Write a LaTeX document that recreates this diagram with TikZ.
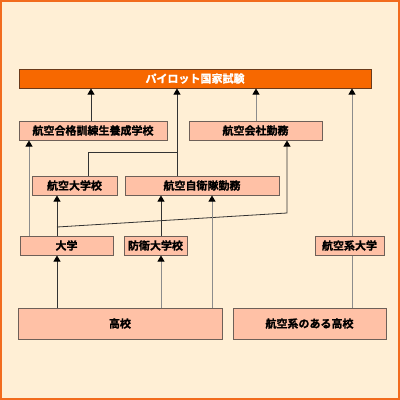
\documentclass[tikz,border=0pt]{standalone}
\usepackage{fontspec}
\setmainfont{Noto Sans CJK JP}[BoldFont={Noto Sans CJK JP Bold}, BoldFeatures={FakeBold=1.2}]
\usetikzlibrary{arrows.meta}
\definecolor{bgc}{HTML}{FFEFD5}
\definecolor{framec}{HTML}{F26B1D}
\definecolor{topc}{HTML}{F76800}
\definecolor{topline}{HTML}{6B3A1A}
\definecolor{boxc}{HTML}{FFC1A6}
\definecolor{boxline}{HTML}{6E6058}
\definecolor{darkl}{HTML}{333333}
\definecolor{grayl}{HTML}{8C8C8C}
\tikzset{
  box/.style={draw=boxline, line width=1pt, fill=boxc, inner sep=0pt,
    font=\bfseries\fontsize{11}{12}\selectfont, text=black, minimum height=19pt},
  topbox/.style={box, fill=topc, draw=topline, text=white},
  arr/.style={-{Triangle[width=7pt,length=6pt,color=black]}, line width=0.8pt},
  dk/.style={draw=darkl},
  gy/.style={draw=grayl},
}
\begin{document}
\begin{tikzpicture}[x=1pt,y=-1pt]
\useasboundingbox (0,0) rectangle (400,400);
\fill[bgc] (0,0) rectangle (400,400);
\draw[framec, line width=2pt] (1,1) rectangle (399,399);

\node[topbox, minimum width=352pt] (top) at (195,78.5) {パイロット国家試験};
\node[box, minimum width=148pt] (kunren) at (93,130.5) {航空合格訓練生養成学校};
\node[box, minimum width=133pt] (kaisha) at (255.5,130.5) {航空会社勤務};
\node[box, minimum width=85pt] (kokudai) at (74.5,185.5) {航空大学校};
\node[box, minimum width=154pt] (jieitai) at (202,185.5) {航空自衛隊勤務};
\node[box, minimum width=93pt] (daigaku) at (66.5,245.5) {大学};
\node[box, minimum width=63pt] (boei) at (155.5,245.5) {防衛大学校};
\node[box, minimum width=69pt] (kokukei) at (349.5,245.5) {航空系大学};
\node[box, minimum width=204pt, minimum height=31pt] (koko) at (120,323.5) {高校};
\node[box, minimum width=153pt, minimum height=31pt] (kokukoko) at (309.5,323.5) {航空系のある高校};

\coordinate (x29) at (29,0);
\coordinate (x57) at (57,0);
\coordinate (x88) at (88,0);
\coordinate (x91) at (91,0);
\coordinate (x161) at (161,0);
\coordinate (x177) at (177,0);
\coordinate (x212) at (212,0);
\coordinate (x256) at (256,0);
\coordinate (x287) at (287,0);
\coordinate (x352) at (352,0);
\coordinate (j1) at (177,152);
\coordinate (s1) at (57,227);
\coordinate (s2) at (287,213);

% to top
\draw[arr,dk] (kunren.north -| x91) -- (top.south -| x91);
\draw[arr,dk] (jieitai.north -| x177) -- (top.south -| x177);
\draw[dk,line width=0.8pt] (kokudai.north -| x88) |- (j1);
\draw[arr,gy] (kaisha.north -| x256) -- (top.south -| x256);
\draw[arr,gy] (kokukei.north -| x352) -- (top.south -| x352);
% middle
\draw[arr,gy] (daigaku.north -| x29) -- (kunren.south -| x29);
\draw[arr,dk] (daigaku.north -| x57) -- (kokudai.south -| x57);
\draw[arr,dk] (s1) -- (s2) -- (kaisha.south -| x287);
\draw[arr,dk] (boei.north -| x161) -- (jieitai.south -| x161);
% bottom
\draw[arr,dk] (koko.north -| x57) -- (daigaku.south -| x57);
\draw[arr,gy] (koko.north -| x161) -- (boei.south -| x161);
\draw[arr,gy] (koko.north -| x212) -- (jieitai.south -| x212);
\draw[gy,line width=0.8pt] (kokukoko.north -| x352) -- (kokukei.south -| x352);
\end{tikzpicture}
\end{document}
